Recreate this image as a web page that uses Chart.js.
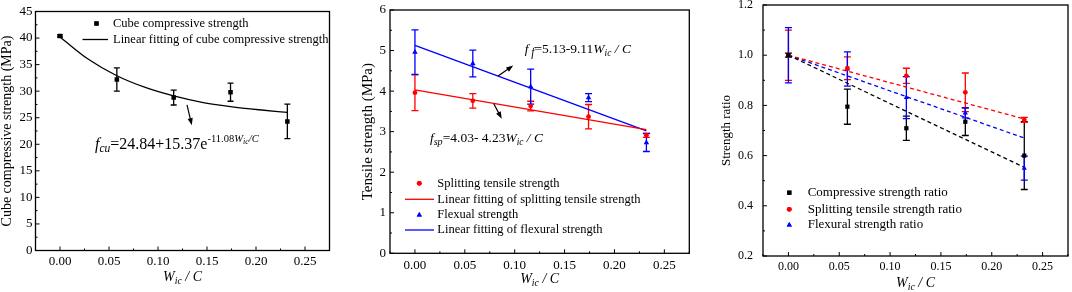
<!DOCTYPE html>
<html>
<head>
<meta charset="utf-8">
<script src="https://cdn.jsdelivr.net/npm/chart.js@4.4.1/dist/chart.umd.min.js"></script>
<style>
  body { margin: 0; background: #fff; }
  canvas { position: absolute; top: 0; }
</style>
</head>
<body>
<canvas id="cube" width="350" height="292" style="left:0"></canvas>
<canvas id="tensile" width="357" height="292" style="left:355px"></canvas>
<canvas id="ratio" width="360" height="292" style="left:712px"></canvas>
<script>
// W_ic / C values shared by all three panels
var wc = [0, 0.058, 0.116, 0.174, 0.232];
var xTicks = [0, 0.05, 0.1, 0.15, 0.2, 0.25];

// panel 1: cube compressive strength (MPa)
var cubeStrength = [40.4, 32.2, 28.8, 29.8, 24.3];
var cubeErr = [0.2, 2.2, 1.4, 1.7, 3.25];
var cubeFitX = [0, 0.029, 0.058, 0.087, 0.116, 0.145, 0.174, 0.203, 0.232];
var cubeFitY = [40.2, 36.0, 32.9, 30.7, 29.1, 27.9, 27.1, 26.5, 26.0];
var cubeTicks = [0, 5, 10, 15, 20, 25, 30, 35, 40, 45];

// panel 2: tensile strength (MPa)
var splitStrength = [3.96, 3.76, 3.63, 3.37, 2.91];
var splitErr = [0.44, 0.18, 0.12, 0.3, 0.05];
var flexStrength = [4.96, 4.68, 4.11, 3.84, 2.73];
var flexErr = [0.55, 0.33, 0.43, 0.1, 0.22];
var fitEndX = [0, 0.232];
var splitFit = [4.03, 3.05];
var flexFit = [5.13, 3.02];
var tensileTicks = [0, 1, 2, 3, 4, 5, 6];

// panel 3: strength ratio
var compRatio = [1.0, 0.795, 0.709, 0.735, 0.60];
var compRatioErr = [0.008, 0.07, 0.048, 0.055, 0.135];
var splitRatio = [1.0, 0.948, 0.918, 0.852, 0.742];
var splitRatioErr = [0.1, 0.045, 0.03, 0.077, 0.01];
var flexRatio = [1.0, 0.945, 0.831, 0.77, 0.55];
var flexRatioErr = [0.11, 0.068, 0.084, 0.02, 0.048];
var compRatioFit = [1.0, 0.553];
var splitRatioFit = [1.0, 0.746];
var flexRatioFit = [1.0, 0.67];
var ratioTicks = [0.2, 0.4, 0.6, 0.8, 1.0, 1.2];

var serif = '"Times New Roman", "Liberation Serif", serif';
var RED = '#ff0000', BLUE = '#0000ff', BLACK = '#000000';

function pts(xs, ys) {
    return xs.map(function (x, i) { return { x: x, y: ys[i] }; });
}

// text with italic / sub / superscript pieces
function richWidth(ctx, parts, size) {
    var w = 0;
    parts.forEach(function (p) {
        ctx.font = (p.it ? 'italic ' : '') + (size * (p.s || 1)) + 'px ' + serif;
        w += ctx.measureText(p.t).width;
    });
    return w;
}
function drawRich(ctx, x, y, parts, size) {
    ctx.textBaseline = 'alphabetic';
    ctx.textAlign = 'left';
    parts.forEach(function (p) {
        ctx.font = (p.it ? 'italic ' : '') + (size * (p.s || 1)) + 'px ' + serif;
        ctx.fillText(p.t, x, y - (p.dy || 0));
        x += ctx.measureText(p.t).width;
    });
}

var xTitle = [{ t: 'W', it: 1 }, { t: 'ic', it: 1, s: 0.7, dy: -3 }, { t: ' / C', it: 1 }];

function makeFig(cfg) {
    return {
        id: 'fig',
        beforeDatasetsDraw: function (chart) {
            var ctx = chart.ctx, xs = chart.scales.x, ys = chart.scales.y;
            chart.data.datasets.forEach(function (ds) {
                if (!ds.errors) return;
                ctx.save();
                ctx.strokeStyle = ds.borderColor;
                ctx.lineWidth = 1.3;
                ds.data.forEach(function (p, i) {
                    var x = xs.getPixelForValue(p.x);
                    var y1 = ys.getPixelForValue(p.y + ds.errors[i]);
                    var y2 = ys.getPixelForValue(p.y - ds.errors[i]);
                    var c = cfg.cap;
                    ctx.beginPath();
                    ctx.moveTo(x, y1); ctx.lineTo(x, y2);
                    ctx.moveTo(x - c, y1); ctx.lineTo(x + c, y1);
                    ctx.moveTo(x - c, y2); ctx.lineTo(x + c, y2);
                    ctx.stroke();
                });
                ctx.restore();
            });
        },
        afterDraw: function (chart) {
            var ctx = chart.ctx, a = chart.chartArea;
            var xs = chart.scales.x, ys = chart.scales.y;
            ctx.save();
            ctx.strokeStyle = '#000';
            ctx.fillStyle = '#000';
            ctx.lineWidth = 1.3;
            ctx.strokeRect(a.left, a.top, a.right - a.left, a.bottom - a.top);

            // inward ticks, major and minor
            ctx.lineWidth = 1;
            ctx.beginPath();
            var n = Math.round((xs.max - xs.min) / cfg.minorX);
            for (var i = 0; i <= n; i++) {
                var v = xs.min + i * cfg.minorX;
                var px = xs.getPixelForValue(v);
                var len = (Math.abs(v / (2 * cfg.minorX) - Math.round(v / (2 * cfg.minorX))) < 1e-6) ? 4 : 2;
                ctx.moveTo(px, a.bottom); ctx.lineTo(px, a.bottom - len);
            }
            n = Math.round((ys.max - ys.min) / cfg.minorY);
            for (i = 0; i <= n; i++) {
                var len2 = (i % 2 === 0) ? 4 : 2;
                var py = ys.getPixelForValue(ys.min + i * cfg.minorY);
                ctx.moveTo(a.left, py); ctx.lineTo(a.left + len2, py);
            }
            ctx.stroke();

            // axis titles
            var w = richWidth(ctx, xTitle, 14);
            drawRich(ctx, (a.left + a.right) / 2 - w / 2, cfg.xTitleY, xTitle, 14);
            ctx.save();
            ctx.translate(cfg.yTitleX, (a.top + a.bottom) / 2);
            ctx.rotate(-Math.PI / 2);
            ctx.font = cfg.yTitleSize + 'px ' + serif;
            ctx.textAlign = 'center';
            ctx.textBaseline = 'middle';
            ctx.fillText(cfg.yTitle, 0, 0);
            ctx.restore();

            // legend
            ctx.font = cfg.legendSize + 'px ' + serif;
            cfg.legend.forEach(function (it) {
                var y = a.top + it.dy;
                ctx.fillStyle = it.color;
                ctx.strokeStyle = it.color;
                if (it.kind === 'line') {
                    ctx.lineWidth = 1.3;
                    ctx.beginPath();
                    ctx.moveTo(a.left + cfg.lineX[0], y);
                    ctx.lineTo(a.left + cfg.lineX[1], y);
                    ctx.stroke();
                } else {
                    Chart.helpers.drawPoint(ctx, { pointStyle: it.kind, radius: it.r, borderWidth: 0 }, a.left + cfg.markX, y);
                    ctx.fill();
                }
                ctx.fillStyle = '#000';
                ctx.textAlign = 'left';
                ctx.textBaseline = 'middle';
                ctx.fillText(it.text, a.left + cfg.textX, y);
            });

            // arrows and equations, placed in data coordinates
            ctx.fillStyle = '#000';
            ctx.strokeStyle = '#000';
            (cfg.arrows || []).forEach(function (ar) {
                var x1 = xs.getPixelForValue(ar[0]), y1 = ys.getPixelForValue(ar[1]);
                var x2 = xs.getPixelForValue(ar[2]), y2 = ys.getPixelForValue(ar[3]);
                var ang = Math.atan2(y2 - y1, x2 - x1);
                ctx.lineWidth = 1.2;
                ctx.beginPath(); ctx.moveTo(x1, y1);
                ctx.lineTo(x2 - 4 * Math.cos(ang), y2 - 4 * Math.sin(ang)); ctx.stroke();
                ctx.beginPath();
                ctx.moveTo(x2, y2);
                ctx.lineTo(x2 - 7 * Math.cos(ang) + 2.6 * Math.sin(ang), y2 - 7 * Math.sin(ang) - 2.6 * Math.cos(ang));
                ctx.lineTo(x2 - 7 * Math.cos(ang) - 2.6 * Math.sin(ang), y2 - 7 * Math.sin(ang) + 2.6 * Math.cos(ang));
                ctx.closePath(); ctx.fill();
            });
            (cfg.notes || []).forEach(function (nt) {
                drawRich(ctx, xs.getPixelForValue(nt.x), ys.getPixelForValue(nt.y), nt.parts, nt.size);
            });
            ctx.restore();
        }
    };
}

function baseOptions(yMin, yMax, yTickVals, yDigits, yFont, yWidth, yPad, xHeight, xPad, pad) {
    return {
        responsive: false,
        animation: false,
        layout: { padding: pad },
        plugins: { legend: { display: false }, tooltip: { enabled: false } },
        scales: {
            x: {
                type: 'linear', min: -0.025, max: 0.275,
                grid: { display: false, drawTicks: false },
                border: { display: false },
                afterBuildTicks: function (s) { s.ticks = xTicks.map(function (v) { return { value: v }; }); },
                afterFit: function (s) { s.height = xHeight; s.paddingLeft = 0; s.paddingRight = 0; },
                ticks: {
                    autoSkip: false, maxRotation: 0, padding: xPad, color: '#000',
                    font: { family: serif, size: yFont },
                    callback: function (v) { return Number(v).toFixed(2); }
                }
            },
            y: {
                type: 'linear', min: yMin, max: yMax,
                grid: { display: false, drawTicks: false },
                border: { display: false },
                afterBuildTicks: function (s) { s.ticks = yTickVals.map(function (v) { return { value: v }; }); },
                afterFit: function (s) { s.width = yWidth; s.paddingTop = 0; s.paddingBottom = 0; },
                ticks: {
                    autoSkip: false, padding: yPad, color: '#000',
                    font: { family: serif, size: yFont },
                    callback: function (v) { return Number(v).toFixed(yDigits); }
                }
            }
        }
    };
}

function markers(label, xs, ys, errs, color, style, r) {
    return {
        label: label, data: pts(xs, ys), errors: errs,
        borderColor: color, backgroundColor: color,
        pointStyle: style, pointRadius: r, pointBorderWidth: 0, showLine: false
    };
}
function fitLine(label, xs, ys, color, dash) {
    return {
        label: label, data: pts(xs, ys), showLine: true,
        borderColor: color, backgroundColor: color, borderWidth: 1.3,
        borderDash: dash || [], pointRadius: 0, cubicInterpolationMode: 'monotone'
    };
}

// ---------- panel 1 ----------
new Chart(document.getElementById('cube'), {
    type: 'scatter',
    data: {
        datasets: [
            markers('Cube compressive strength', wc, cubeStrength, cubeErr, BLACK, 'rect', 3.2),
            fitLine('Linear fitting of cube compressive strength', cubeFitX, cubeFitY, BLACK)
        ]
    },
    options: baseOptions(0, 45, cubeTicks, 0, 13, 35.5, 3, 41.5, 3, { top: 11.5, right: 20.5 }),
    plugins: [makeFig({
        cap: 3, minorX: 0.025, minorY: 2.5, xTitleY: 281,
        yTitle: 'Cube compressive strength (MPa)', yTitleX: 7, yTitleSize: 14,
        legendSize: 12.5, markX: 61, lineX: [47, 72.5], textX: 77.5,
        legend: [
            { kind: 'rect', r: 3, color: BLACK, dy: 12, text: 'Cube compressive strength' },
            { kind: 'line', color: BLACK, dy: 28, text: 'Linear fitting of cube compressive strength' }
        ],
        arrows: [[0.1296, 27.4, 0.1345, 23.6]],
        notes: [{
            x: 0.0357, y: 19.1, size: 16, parts: [
                { t: 'f', it: 1 }, { t: 'cu', it: 1, s: 0.72, dy: -3 }, { t: '=24.84+15.37e' },
                { t: '-11.08', s: 0.66, dy: 7 }, { t: 'W', it: 1, s: 0.66, dy: 7 },
                { t: 'ic', it: 1, s: 0.5, dy: 5 }, { t: '/C', it: 1, s: 0.66, dy: 7 }
            ]
        }]
    })]
});

// ---------- panel 2 ----------
new Chart(document.getElementById('tensile'), {
    type: 'scatter',
    data: {
        datasets: [
            markers('Splitting tensile strength', wc, splitStrength, splitErr, RED, 'circle', 2.4),
            fitLine('Linear fitting of splitting tensile strength', fitEndX, splitFit, RED),
            markers('Flexual strength', wc, flexStrength, flexErr, BLUE, 'triangle', 3.2),
            fitLine('Linear fitting of flexural strength', fitEndX, flexFit, BLUE)
        ]
    },
    options: baseOptions(0, 6, tensileTicks, 0, 13, 35, 4, 38.7, 4.5, { top: 10, right: 22.7 }),
    plugins: [makeFig({
        cap: 3.5, minorX: 0.025, minorY: 0.5, xTitleY: 283,
        yTitle: 'Tensile strength (MPa)', yTitleX: 13, yTitleSize: 15,
        legendSize: 12.5, markX: 29.3, lineX: [15, 44], textX: 47.3,
        legend: [
            { kind: 'circle', r: 2.4, color: RED, dy: 173.3, text: 'Splitting tensile strength' },
            { kind: 'line', color: RED, dy: 189.3, text: 'Linear fitting of splitting tensile strength' },
            { kind: 'triangle', r: 3, color: BLUE, dy: 205, text: 'Flexual strength' },
            { kind: 'line', color: BLUE, dy: 220, text: 'Linear fitting of flexural strength' }
        ],
        arrows: [[0.0833, 4.37, 0.0985, 4.63], [0.079, 3.69, 0.087, 3.32]],
        notes: [
            {
                x: 0.11, y: 4.93, size: 13.5, parts: [
                    { t: 'f', it: 1 }, { t: ' f', it: 1, s: 0.85, dy: -3 }, { t: '=5.13-9.11' },
                    { t: 'W', it: 1 }, { t: 'ic', it: 1, s: 0.7, dy: -3 }, { t: ' / C', it: 1 }
                ]
            },
            {
                x: 0.015, y: 2.75, size: 13.5, parts: [
                    { t: 'f', it: 1 }, { t: 'sp', it: 1, s: 0.75, dy: -3 }, { t: '=4.03- 4.23' },
                    { t: 'W', it: 1 }, { t: 'ic', it: 1, s: 0.7, dy: -3 }, { t: ' / C', it: 1 }
                ]
            }
        ]
    })]
});

// ---------- panel 3 ----------
new Chart(document.getElementById('ratio'), {
    type: 'scatter',
    data: {
        datasets: [
            markers('Compressive strength ratio', wc, compRatio, compRatioErr, BLACK, 'rect', 3),
            markers('Splitting tensile strength ratio', wc, splitRatio, splitRatioErr, RED, 'circle', 2.4),
            markers('Flexural strength ratio', wc, flexRatio, flexRatioErr, BLUE, 'triangle', 3),
            fitLine('compressive fit', fitEndX, compRatioFit, BLACK, [4, 3]),
            fitLine('splitting fit', fitEndX, splitRatioFit, RED, [4, 3]),
            fitLine('flexural fit', fitEndX, flexRatioFit, BLUE, [4, 3])
        ]
    },
    options: baseOptions(0.2, 1.2, ratioTicks, 1, 12, 51, 10, 36, 3.5, { top: 5, right: 2 }),
    plugins: [makeFig({
        cap: 3.5, minorX: 0.025, minorY: 0.1, xTitleY: 287,
        yTitle: 'Strength ratio', yTitleX: 15, yTitleSize: 13,
        legendSize: 13, markX: 26.3, lineX: [0, 0], textX: 44.7,
        legend: [
            { kind: 'rect', r: 3, color: BLACK, dy: 187.7, text: 'Compressive strength ratio' },
            { kind: 'circle', r: 2.4, color: RED, dy: 204.3, text: 'Splitting tensile strength ratio' },
            { kind: 'triangle', r: 3, color: BLUE, dy: 220, text: 'Flexural strength ratio' }
        ]
    })]
});
</script>
</body>
</html>
